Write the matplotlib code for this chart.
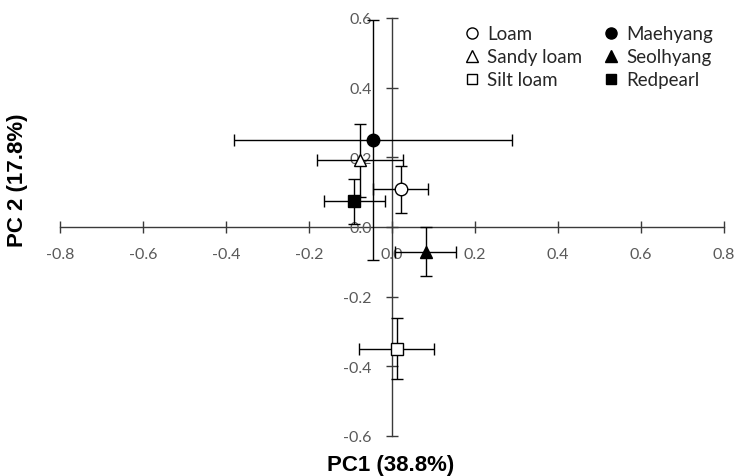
import numpy as np
import matplotlib
matplotlib.use('Agg')
import matplotlib.pyplot as plt
from matplotlib.lines import Line2D

# Значения PC1/PC2 со стандартными отклонениями
labels = ['Loam', 'Sandy loam', 'Silt loam', 'Maehyang', 'Seolhyang', 'Redpearl']
pc1 = [0.021, -0.077, 0.011, -0.046, 0.081, -0.091]
pc2 = [0.108, 0.191, -0.349, 0.250, -0.071, 0.074]
pc1_err = [0.066, 0.103, 0.091, 0.335, 0.073, 0.074]
pc2_err = [0.067, 0.105, 0.088, 0.345, 0.070, 0.064]
markers = ['o', '^', 's', 'o', '^', 's']
faces = ['white', 'white', 'white', 'black', 'black', 'black']

x_ticks = [-0.8, -0.6, -0.4, -0.2, 0.0, 0.2, 0.4, 0.6, 0.8]
y_ticks = [-0.6, -0.4, -0.2, 0.0, 0.2, 0.4, 0.6]

axis_color = '#3a3a3a'
text_color = '#595959'

fig = plt.figure(figsize=(7.34, 4.77), dpi=100)
ax = fig.add_axes([60 / 734, 1 - 437 / 477, 664 / 734, 418 / 477])

for i in range(len(labels)):
    ax.errorbar(pc1[i], pc2[i], xerr=pc1_err[i], yerr=pc2_err[i],
                fmt=markers[i], mfc=faces[i], mec='black', ms=9 if markers[i] != 's' else 8.5,
                mew=1, ecolor='black', elinewidth=1, capsize=4, capthick=1,
                clip_on=False, zorder=3)

ax.set_xlim(-0.8, 0.8)
ax.set_ylim(-0.6, 0.6)
ax.spines['left'].set_position(('data', 0))
ax.spines['bottom'].set_position(('data', 0))
ax.spines['top'].set_visible(False)
ax.spines['right'].set_visible(False)
for s in ['left', 'bottom']:
    ax.spines[s].set_color(axis_color)
    ax.spines[s].set_linewidth(1)
    ax.spines[s].set_zorder(1)

ax.set_xticks(x_ticks)
ax.set_yticks(y_ticks)
ax.set_xticklabels([f'{v:.1f}' for v in x_ticks])
ax.set_yticklabels([f'{v:.1f}' for v in y_ticks])
ax.tick_params(direction='inout', length=9, width=1, color=axis_color,
               labelcolor=text_color, labelsize=11.5, pad=10)
for t in ax.get_xticklabels() + ax.get_yticklabels():
    t.set_fontfamily('Lato')
    t.set_zorder(4)

fig.text(391 / 734, 1 - 466 / 477, 'PC1 (38.8%)', ha='center', va='center',
         fontsize=16, fontweight='bold', family='Liberation Sans')
fig.text(18 / 734, 1 - 180 / 477, 'PC 2 (17.8%)', ha='center', va='center',
         rotation=90, fontsize=16, fontweight='bold', family='Liberation Sans')

handles = [Line2D([], [], ls='none', marker=markers[i], mfc=faces[i], mec='black',
                  ms=8 if markers[i] != 's' else 7.5, mew=1) for i in range(len(labels))]
leg = ax.legend(handles, labels, ncol=2, frameon=False, loc='upper left',
                bbox_to_anchor=(456 / 734, 1 - 17 / 477), bbox_transform=fig.transFigure,
                prop={'family': 'Lato', 'size': 13.5}, handlelength=0.7, handletextpad=0.45,
                columnspacing=1.2, labelspacing=0.32, borderpad=0)
for t in leg.get_texts():
    t.set_color('#262626')

fig.savefig('out.png', dpi=100)
